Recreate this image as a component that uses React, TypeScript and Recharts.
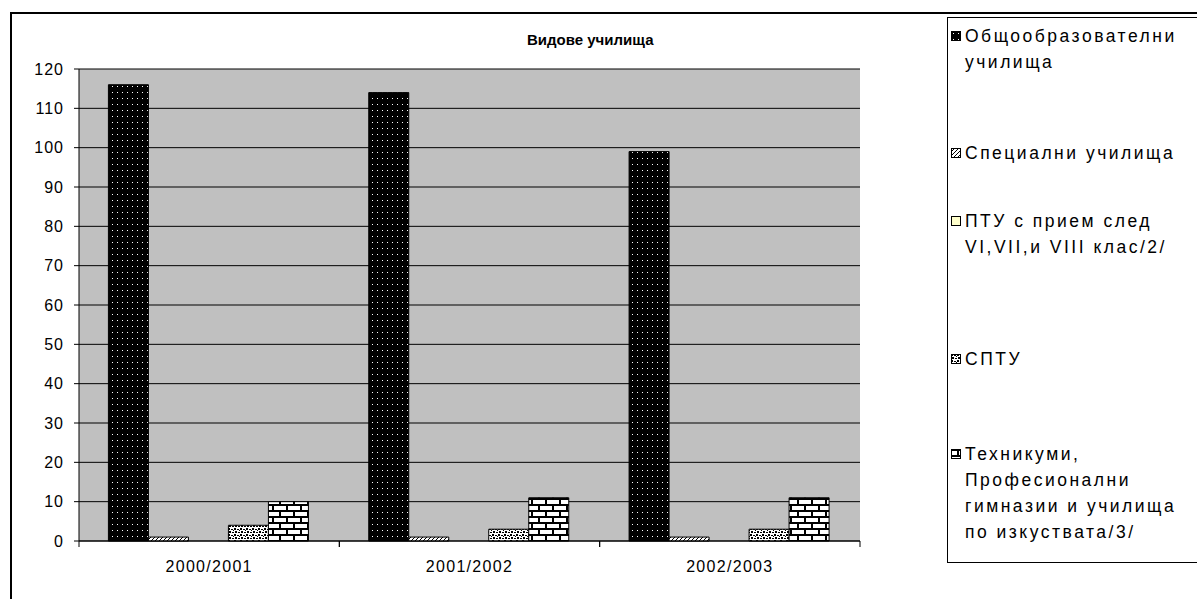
import {
  BarChart, Bar, XAxis, YAxis, CartesianGrid, Legend,
} from "recharts";

const categories = ["2000/2001", "2001/2002", "2002/2003"];
const general = [116, 114, 99];
const special = [1, 1, 1];
const ptu = [0, 0, 0];
const sptu = [4, 3, 3];
const technical = [10, 11, 11];
const yTicks = [0, 10, 20, 30, 40, 50, 60, 70, 80, 90, 100, 110, 120];

const SERIES = [
  { key: "general", name: "Общообразователни\nучилища", fill: "url(#pDense)" },
  { key: "special", name: "Специални училища", fill: "url(#pDiag)" },
  { key: "ptu", name: "ПТУ с прием след\nVI,VII,и VIII клас/2/", fill: "#FFFFCC" },
  { key: "sptu", name: "СПТУ", fill: "url(#pSptu)" },
  { key: "technical", name: "Техникуми,\nПрофесионални\nгимназии и училища\nпо изкуствата/3/", fill: "url(#pBrick)" },
];

// top of each legend entry inside the legend box
const LEGEND_TOPS = [5, 122, 190, 328, 423];

const data = categories.map((c, i) => ({
  name: c,
  general: general[i],
  special: special[i],
  ptu: ptu[i],
  sptu: sptu[i],
  technical: technical[i],
}));

const FONT = "'Liberation Sans', Arial, sans-serif";

function Patterns() {
  return (
    <svg width={0} height={0} style={{ position: "absolute" }}>
      <defs>
        <pattern id="pDense" width="5" height="6" patternUnits="userSpaceOnUse">
          <rect width="5" height="6" fill="#000" />
          <rect x="2" y="2" width="1" height="1" fill="#fff" />
        </pattern>
        <pattern id="pDiag" width="4" height="4" patternUnits="userSpaceOnUse">
          <rect width="4" height="4" fill="#fff" />
          <path d="M0,4 L4,0" stroke="#000" strokeWidth="1" />
        </pattern>
        <pattern id="pSptu" width="6" height="6" patternUnits="userSpaceOnUse">
          <rect width="6" height="6" fill="#fff" />
          <rect x="0" y="0" width="2" height="2" fill="#000" />
          <rect x="3" y="1" width="2" height="1" fill="#000" />
          <rect x="1" y="3" width="2" height="2" fill="#000" />
          <rect x="4" y="4" width="2" height="1" fill="#000" />
          <rect x="5" y="2" width="1" height="1" fill="#000" />
        </pattern>
        <pattern id="pBrick" width="14" height="12" patternUnits="userSpaceOnUse">
          <rect width="14" height="12" fill="#fff" />
          <rect x="0" y="0" width="14" height="2" fill="#000" />
          <rect x="0" y="6" width="14" height="2" fill="#000" />
          <rect x="6" y="0" width="2" height="6" fill="#000" />
          <rect x="0" y="6" width="1" height="6" fill="#000" />
          <rect x="13" y="6" width="1" height="6" fill="#000" />
        </pattern>
      </defs>
    </svg>
  );
}

function CategoryTick(props: any) {
  const { x, y, payload } = props;
  const off = payload.offset ?? 0;
  return (
    <g>
      <line x1={x - off} y1={y} x2={x - off} y2={y + 6} stroke="#000" />
      <line x1={x + off} y1={y} x2={x + off} y2={y + 6} stroke="#000" />
      <text
        x={x}
        y={y + 27}
        textAnchor="middle"
        dominantBaseline="middle"
        fill="#000"
        fontSize={16}
        letterSpacing={1.3}
        fontFamily={FONT}
      >
        {payload.value}
      </text>
    </g>
  );
}

function LegendBox() {
  return (
    <div
      style={{
        position: "relative",
        width: 262,
        height: 546,
        border: "1px solid #000",
        background: "#fff",
        fontFamily: FONT,
        fontSize: 17.5,
        letterSpacing: 2.5,
        lineHeight: "26px",
        color: "#000",
        boxSizing: "border-box",
      }}
    >
      {SERIES.map((s, i) => (
        <div key={s.key} style={{ position: "absolute", left: 3, top: LEGEND_TOPS[i] }}>
          <svg width={11} height={11} style={{ position: "absolute", left: 0, top: 8 }}>
            <rect x={0.5} y={0.5} width={9} height={9} fill={s.fill} stroke="#000" />
          </svg>
          <div style={{ marginLeft: 14, whiteSpace: "pre" }}>{s.name}</div>
        </div>
      ))}
    </div>
  );
}

export default function App() {
  return (
    <div style={{ position: "absolute", left: 0, top: 0, width: 1197, height: 599, background: "#fff", overflow: "hidden" }}>
      <Patterns />
      <div
        style={{
          position: "absolute",
          left: 10,
          top: 12,
          width: 1300,
          height: 700,
          borderLeft: "2px solid #000",
          borderTop: "2px solid #000",
        }}
      />
      <div
        style={{
          position: "absolute",
          left: 527,
          top: 31,
          fontFamily: FONT,
          fontWeight: "bold",
          fontSize: 15,
          whiteSpace: "nowrap",
        }}
      >
        Видове училища
      </div>
      <div style={{ position: "absolute", left: 0, top: 0 }}>
        <BarChart
          width={1197}
          height={599}
          data={data}
          margin={{ top: 69, right: 337, bottom: 28, left: 39 }}
          barCategoryGap="11.3%"
          barGap={0}
        >
          <CartesianGrid vertical={false} stroke="#000" fill="#C0C0C0" fillOpacity={1} />
          <XAxis
            dataKey="name"
            height={30}
            axisLine={{ stroke: "#000" }}
            tickLine={false}
            tickSize={0}
            tickMargin={0}
            tick={<CategoryTick />}
            interval={0}
          />
          <YAxis
            width={40}
            domain={[0, 120]}
            ticks={yTicks}
            interval={0}
            axisLine={{ stroke: "#000" }}
            tickLine={{ stroke: "#000" }}
            tickSize={5}
            tickMargin={10}
            tick={{ fill: "#000", fontSize: 16, fontFamily: FONT, letterSpacing: 1 }}
          />
          <Legend
            layout="horizontal"
            align="center"
            verticalAlign="middle"
            content={() => <LegendBox />}
            wrapperStyle={{ position: "absolute", left: 947, top: 17, width: 262, height: 546 }}
          />
          {SERIES.map((s) => (
            <Bar
              key={s.key}
              dataKey={s.key}
              name={s.name}
              fill={s.fill}
              stroke="#000"
              strokeWidth={1}
              isAnimationActive={false}
            />
          ))}
        </BarChart>
      </div>
    </div>
  );
}
